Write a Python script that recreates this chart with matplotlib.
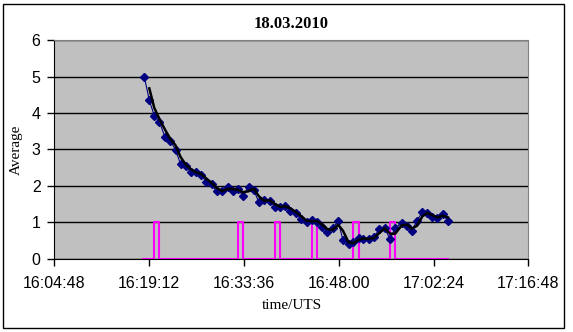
import matplotlib
matplotlib.use("Agg")
import matplotlib.pyplot as plt
import matplotlib.ticker as mticker
import pandas as pd

# measurement times and averages
times = ["16:18:26", "16:19:12", "16:19:58", "16:20:45", "16:21:35", "16:22:24",
         "16:23:11", "16:23:57", "16:24:47", "16:25:30", "16:26:18", "16:27:04",
         "16:27:52", "16:28:40", "16:29:25", "16:30:15", "16:31:06", "16:31:51",
         "16:32:41", "16:33:24", "16:34:17", "16:35:05", "16:35:50", "16:36:39",
         "16:37:31", "16:38:19", "16:39:06", "16:39:53", "16:40:36", "16:41:26",
         "16:42:16", "16:43:06", "16:43:56", "16:44:42", "16:45:28", "16:46:15",
         "16:47:02", "16:47:54", "16:48:37", "16:49:28", "16:50:13", "16:50:59",
         "16:51:42", "16:52:32", "16:53:20", "16:54:10", "16:54:58", "16:55:46",
         "16:56:32", "16:57:31", "16:58:19", "16:59:04", "16:59:52", "17:00:40",
         "17:01:26", "17:02:11", "17:02:57", "17:03:47", "17:04:33"]
average = [5.0, 4.35, 3.92, 3.75, 3.34, 3.24, 2.99, 2.60, 2.55, 2.38, 2.37, 2.29,
           2.12, 2.05, 1.85, 1.87, 1.97, 1.86, 1.93, 1.73, 1.98, 1.88, 1.56, 1.63,
           1.58, 1.43, 1.43, 1.46, 1.32, 1.26, 1.09, 1.00, 1.07, 1.00, 0.89, 0.75,
           0.84, 1.03, 0.52, 0.40, 0.47, 0.58, 0.55, 0.55, 0.60, 0.83, 0.85, 0.54,
           0.84, 0.99, 0.90, 0.77, 1.05, 1.28, 1.25, 1.15, 1.13, 1.24, 1.04]

# on/off flag (step signal)
flag_times = ["16:18:15", "16:19:58", "16:19:58", "16:20:43", "16:20:43",
              "16:32:44", "16:32:44", "16:33:30", "16:33:30",
              "16:38:19", "16:38:19", "16:39:07", "16:39:07",
              "16:43:54", "16:43:54", "16:44:42", "16:44:42",
              "16:50:13", "16:50:13", "16:50:59", "16:50:59",
              "16:55:42", "16:55:42", "16:56:36", "16:56:36", "17:04:37"]
flag = [0, 0, 1, 1, 0, 0, 1, 1, 0, 0, 1, 1, 0, 0, 1, 1, 0, 0, 1, 1, 0, 0, 1, 1, 0, 0]

tick_labels = ["16:04:48", "16:19:12", "16:33:36", "16:48:00", "17:02:24", "17:16:48"]


def to_sec(s):
    h, m, sec = s.split(":")
    return int(h) * 3600 + int(m) * 60 + int(sec)


def fmt_time(v, pos=None):
    v = int(round(v))
    return "%d:%02d:%02d" % (v // 3600, (v % 3600) // 60, v % 60)


df = pd.DataFrame({"t": [to_sec(s) for s in times], "avg": average})
trend = df["avg"].rolling(2).mean()
flag_t = [to_sec(s) for s in flag_times]
ticks = [to_sec(s) for s in tick_labels]

fig = plt.figure(figsize=(5.73, 3.32), dpi=100)
ax = fig.add_axes([0.0951, 0.2199, 0.8272, 0.6596])
ax.set_facecolor("#c0c0c0")

ax.plot(flag_t, flag, color="#ff00ff", lw=1.5, zorder=2)
ax.plot(df["t"], df["avg"], color="#000080", lw=0.8, marker="D", ms=3.8,
        mfc="#000080", mec="#000080", zorder=3)
ax.plot(df["t"], trend, color="black", lw=1.8, zorder=4)

ax.set_xlim(ticks[0], ticks[-1])
ax.set_ylim(0, 6)
ax.xaxis.set_major_locator(mticker.FixedLocator(ticks))
ax.xaxis.set_major_formatter(mticker.FuncFormatter(fmt_time))
ax.yaxis.set_major_locator(mticker.MultipleLocator(1))
ax.grid(axis="y", color="black", lw=1)
ax.set_axisbelow(True)

for side in ["top", "right"]:
    ax.spines[side].set_color("#808080")
for side in ["left", "bottom"]:
    ax.spines[side].set_color("black")
ax.tick_params(direction="out", length=5, width=1, colors="black",
               labelsize=11.5)
ax.tick_params(axis="x", pad=7)
ax.tick_params(axis="y", pad=5)
for lab in ax.get_xticklabels() + ax.get_yticklabels():
    lab.set_family("Liberation Sans")

ax.set_title("18.03.2010", family="Liberation Serif", fontweight="bold",
             fontsize=12, pad=9)
ax.set_xlabel("time/UTS", family="Liberation Serif", fontsize=11, labelpad=6)
ax.set_ylabel("Average", family="Liberation Serif", fontsize=11, labelpad=6)

fig.patches.append(plt.Rectangle((0.006, 0.012), 0.978, 0.976, transform=fig.transFigure,
                                 fill=False, ec="black", lw=1))

fig.savefig("out.png", dpi=100)
